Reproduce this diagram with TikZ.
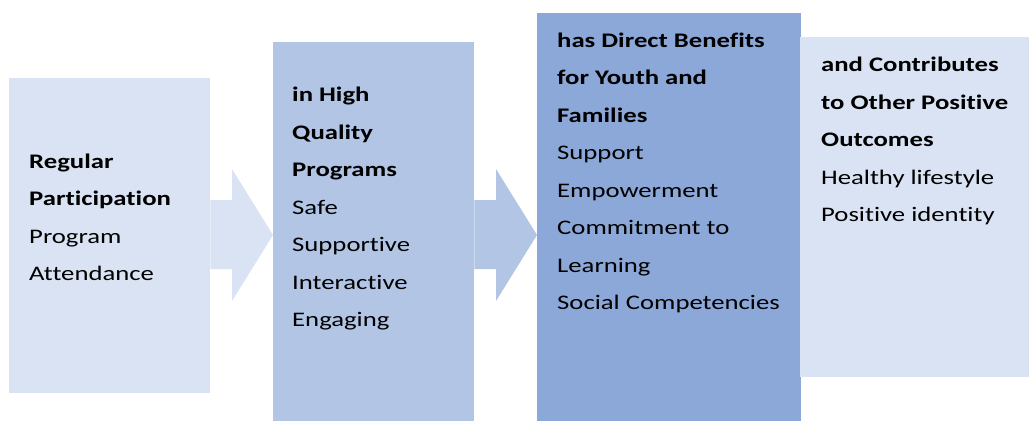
\documentclass[tikz,border=0pt]{standalone}
\usepackage{fontspec}
\setmainfont{Carlito}[FakeStretch=1.29,Ligatures=NoCommon]
\usetikzlibrary{positioning,calc}
\definecolor{paleblue}{RGB}{218,227,243}
\definecolor{midblue}{RGB}{178,197,229}
\definecolor{deepblue}{RGB}{139,168,216}
\newcommand\stagearrow[3]{\fill[#3] let \p1=(#1.east),\p2=(#2.west) in
(\x1,-200pt) -- ({\x2-41pt},-200pt) -- ({\x2-41pt},-169pt) -- (\x2,-235pt) --
({\x2-41pt},-301pt) -- ({\x2-41pt},-269pt) -- (\x1,-269pt) -- cycle;}

\begin{document}
\begin{tikzpicture}
[x=1pt,y=-1pt,
stage/.style={anchor=north west,inner sep=0pt,draw=none},
words/.style={anchor=base west,inner sep=0pt,align=left,text=black,
  font=\fontsize{20.7}{37.5}\selectfont}]
\useasboundingbox (0,0) rectangle (1029,421);
\node[stage,fill=paleblue,minimum width=201pt,minimum height=315pt] (participation) at (9,78) {};
\node[stage,fill=midblue,minimum width=201pt,minimum height=379pt] (quality) at (273,42) {};
\node[stage,fill=deepblue,minimum width=264pt,minimum height=408pt] (benefits) at (537,13) {};
\node[stage,fill=paleblue,minimum width=229pt,minimum height=340pt] (outcomes) at (800,37) {};
\stagearrow{participation}{quality}{paleblue}
\stagearrow{quality}{benefits}{midblue}
\node[words] (participationtext) at (29,280.5) {\textbf{Regular}\\\textbf{Participation}\\Program\\Attendance};
\node[words] (qualitytext) at (292,326.5) {\textbf{in High}\\\textbf{Quality}\\\textbf{Programs}\\Safe\\Supportive\\Interactive\\Engaging};
\node[words] (benefitstext) at (557,309.5) {\textbf{has Direct Benefits}\\\textbf{for Youth and}\\\textbf{Families}\\Support\\Empowerment\\Commitment to\\Learning\\Social Competencies};
\node[words] (outcomestext) at (821,221.5) {\textbf{and Contributes}\\\textbf{to Other Positive}\\\textbf{Outcomes}\\Healthy lifestyle\\Positive identity};
\end{tikzpicture}
\end{document}
